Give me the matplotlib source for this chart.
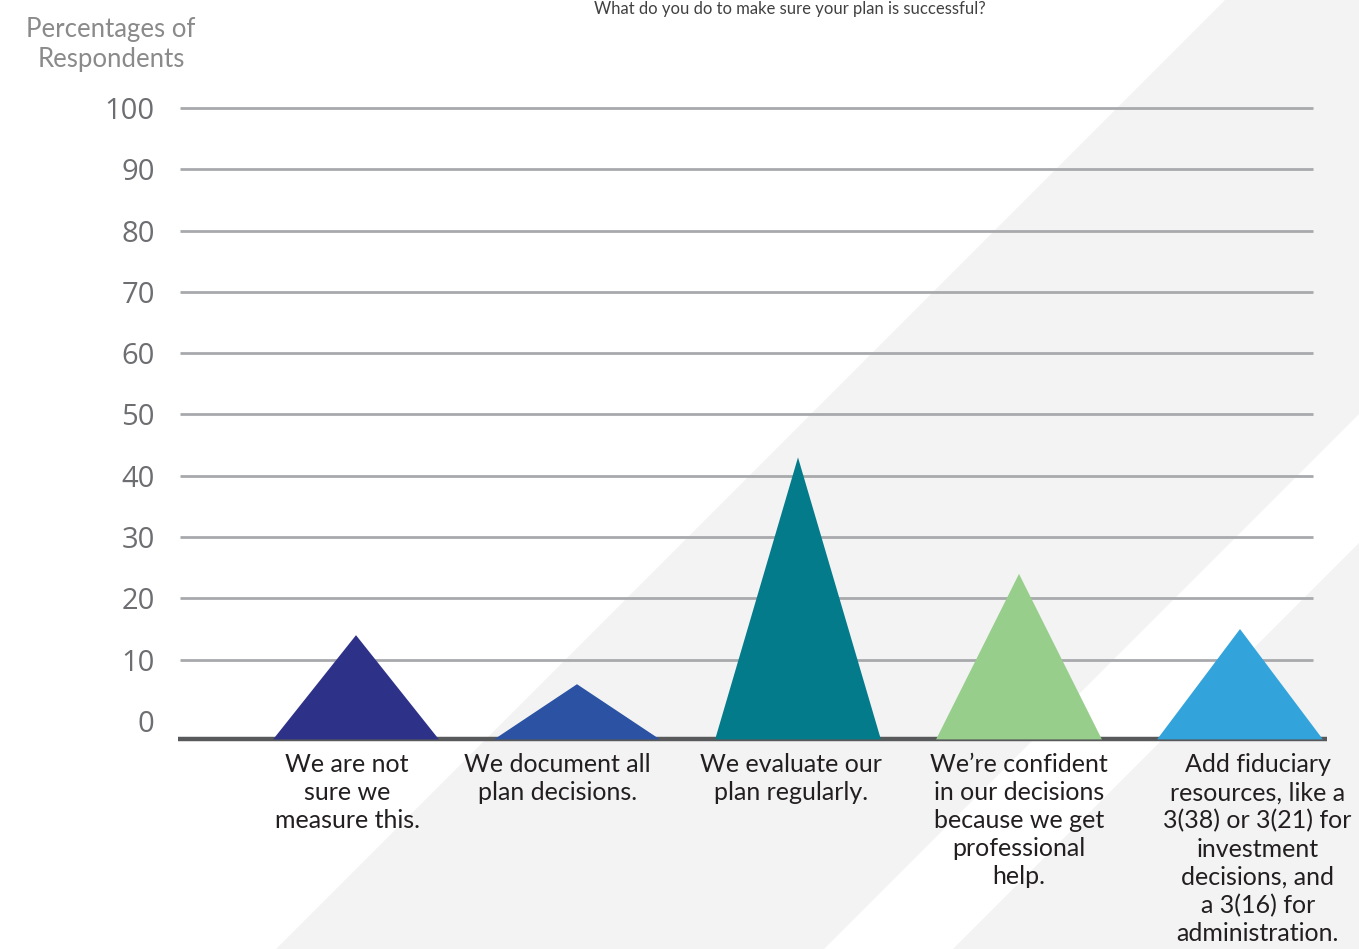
import matplotlib.pyplot as plt
from matplotlib.patches import Polygon

plt.rcParams['font.family'] = ['Lato', 'DejaVu Sans']

# data
categories = [
    "We are not\nsure we\nmeasure this.",
    "We document all\nplan decisions.",
    "We evaluate our\nplan regularly.",
    "We\u2019re confident\nin our decisions\nbecause we get\nprofessional\nhelp.",
    "Add fiduciary\nresources, like a\n3(38) or 3(21) for\ninvestment\ndecisions, and\na 3(16) for\nadministration.",
]
values = [14, 6, 43, 24, 15]
colors = ["#2e3188", "#2b52a3", "#047b8b", "#98ce8c", "#33a3dc"]
yticks = [0, 10, 20, 30, 40, 50, 60, 70, 80, 90, 100]
title = "What do you do to make sure your plan is successful?"

W, H = 1359, 949
fig = plt.figure(figsize=(W / 100, H / 100), dpi=100)

# background with diagonal stripes
bg = fig.add_axes([0, 0, 1, 1], zorder=0)
bg.set_xlim(0, W)
bg.set_ylim(H, 0)
bg.axis("off")
gray = "#f3f3f3"
bg.add_patch(Polygon([(1225, 0), (1773, 0), (1773 - H, H), (1225 - H, H)],
                     closed=True, color=gray, lw=0))
bg.add_patch(Polygon([(1902, 0), (3000, 0), (3000, H), (1902 - H, H)],
                     closed=True, color=gray, lw=0))

# main axes: 0 at pixel 721, 100 at pixel 108, x centres 356 + 221*i
px_per_unit = (721 - 108) / 100
left_px, right_px, top_px, bot_px = 170, 1330, 100, 745
ax = fig.add_axes([left_px / W, 1 - bot_px / H, (right_px - left_px) / W, (bot_px - top_px) / H],
                  zorder=1)
ax.patch.set_alpha(0)
ax.set_ylim(-(bot_px - 721) / px_per_unit, (721 - top_px) / px_per_unit)
ax.set_xlim((left_px - 356) / 221, (right_px - 356) / 221)
for s in ax.spines.values():
    s.set_visible(False)

ax.hlines(yticks[1:], (180 - 356) / 221, (1313 - 356) / 221, color="#a7a9ac", lw=2, zorder=1)
ax.set_yticks(yticks)
ax.set_yticklabels([str(t) for t in yticks], fontsize=21, color="#6d6e71",
                   family=["Open Sans", "DejaVu Sans"])
ax.tick_params(axis="y", length=0, pad=11)
ax.set_xticks([])

base = -3.0
ax.plot([(178 - 356) / 221, (1327 - 356) / 221], [base, base], color="#58595b", lw=3.2,
        solid_capstyle="butt", zorder=2)

half = 0.375
for i, (v, c) in enumerate(zip(values, colors)):
    ax.fill([i - half, i, i + half], [base, v, base], color=c, lw=0, zorder=3)

label_shift = [-0.04, -0.09, -0.03, 0.0, 0.08]
for i, lab in enumerate(categories):
    ax.text(i + label_shift[i], base - 2.3, lab, ha="center", va="top", fontsize=18,
            color="#231f20", linespacing=1.26, zorder=4)

fig.text(111 / W, 1 - 44 / H, "Percentages of\nRespondents", ha="center", va="center",
         fontsize=18.5, color="#8a8a8a", linespacing=1.25)
fig.text(790 / W, 1 - 1 / H, title, ha="center", va="top", fontsize=12, color="#414042")

fig.savefig("out.png", dpi=100)
